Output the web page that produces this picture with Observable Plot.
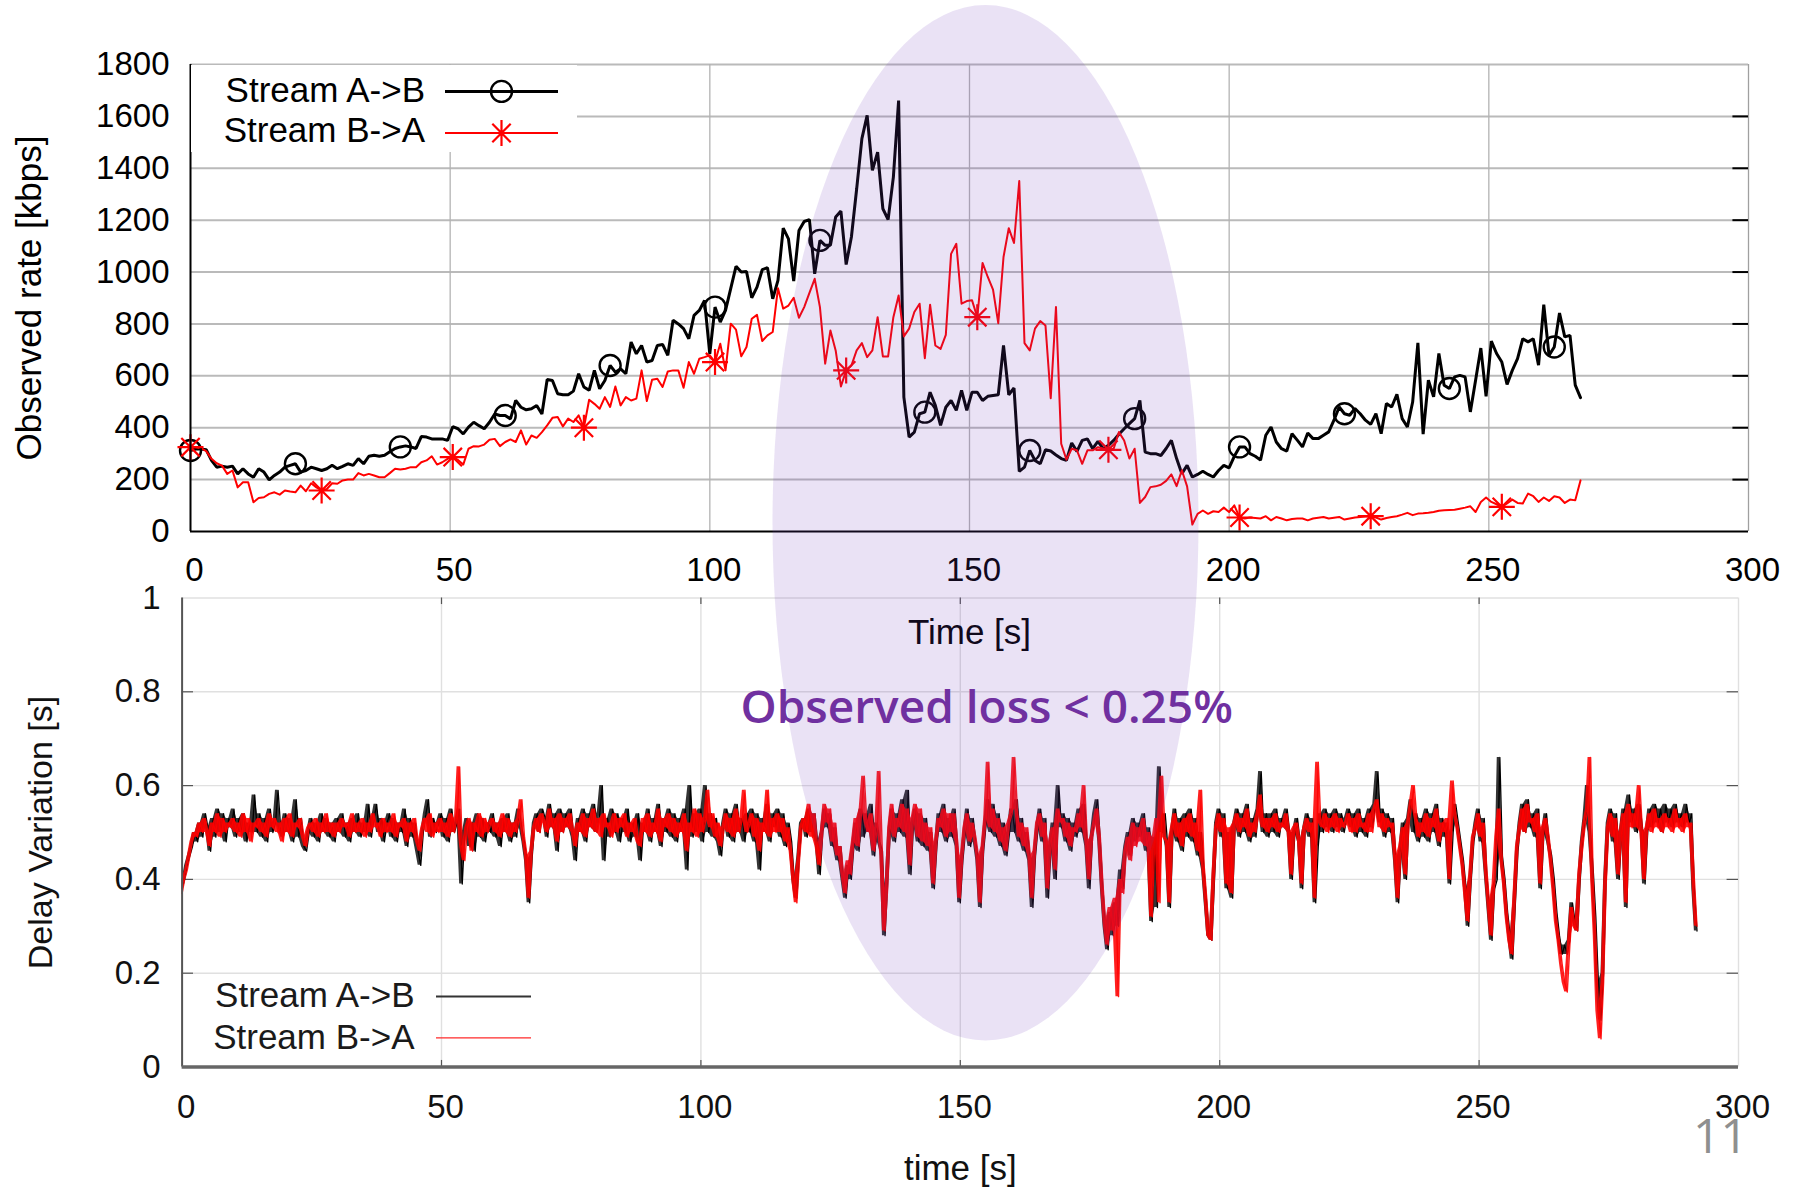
<!DOCTYPE html>
<html>
<head>
<meta charset="utf-8">
<script src="https://cdn.jsdelivr.net/npm/d3@7"></script>
<script src="https://cdn.jsdelivr.net/npm/@observablehq/plot@0.6"></script>
<style>
html, body { margin: 0; padding: 0; background: #fff; }
#page { position: relative; width: 1801px; height: 1188px; overflow: hidden; background: #fff; }
</style>
</head>
<body>
<div id="page"></div>
<script>
// ---------- DATA ----------
// Observed rate (kbps), one sample about every 1.01 s
const rateStep = 1.01;
const rateA = [
312,318,318,315,274,248,252,248,252,222,
242,222,209,242,229,199,216,229,248,255,
261,229,235,248,242,235,242,255,242,251,
261,255,281,261,290,294,290,294,307,320,
326,330,326,320,366,364,357,357,357,351,
404,396,376,402,421,408,396,421,453,447,
447,434,505,479,469,473,486,453,586,582,
531,527,527,541,608,557,544,621,550,582,
640,614,627,608,730,685,717,653,659,717,
721,679,814,800,782,743,833,852,891,685,
865,807,852,937,1022,1000,1002,901,942,1009,
1017,897,968,1169,1128,965,1160,1195,1202,993,
1122,1103,1103,1212,1235,1029,1135,1320,1514,1604,
1392,1462,1244,1202,1366,1661,518,364,383,454,
460,537,486,409,479,505,467,544,467,537,
537,505,521,524,527,717,527,553,232,248,
312,274,261,315,310,295,281,274,341,309,
351,357,319,347,319,332,351,375,396,416,
435,505,306,300,300,293,320,351,281,223,
255,210,220,232,220,210,235,255,245,290,
326,326,300,290,275,371,403,345,319,310,
377,352,326,380,358,358,371,384,429,480,
454,448,474,454,429,413,454,377,493,480,
529,435,403,499,727,375,583,519,686,564,
551,596,602,596,461,583,707,521,734,686,
653,567,621,666,743,731,743,641,874,679,
711,842,750,756,564,516
];
const rateB = [
325,325,321,310,280,263,254,222,235,170,
190,190,113,129,132,145,151,142,158,154,
151,177,155,186,170,158,164,186,184,197,
200,200,225,216,222,216,209,209,225,242,
239,242,248,248,267,274,290,258,267,280,
287,276,258,319,329,328,335,354,357,329,
345,355,345,390,335,370,361,383,409,438,
441,405,435,422,448,400,508,492,473,518,
480,559,486,518,505,512,621,503,585,589,
557,617,621,621,554,653,608,666,672,679,
653,724,621,801,778,675,711,820,835,734,
756,769,938,859,871,901,824,865,920,974,
865,647,775,698,559,621,640,698,726,672,
698,826,675,675,826,910,752,782,846,878,
668,874,717,704,758,1070,1109,878,888,891,
826,1035,981,932,803,1058,1169,1112,1351,726,
698,782,811,794,514,865,338,277,319,313,
261,313,313,325,320,315,319,383,351,281,
319,110,133,171,174,180,195,220,175,236,
174,27,68,81,68,78,75,92,75,101,
54,50,54,52,50,59,43,56,50,43,
48,50,50,43,50,53,56,50,53,56,
46,50,54,56,58,59,54,46,52,56,
59,65,72,63,69,70,72,75,80,82,
83,84,88,92,97,75,114,131,114,105,
95,108,123,110,108,146,136,114,131,118,
136,131,110,123,120,197
];
const markEveryA = 20;
const markEveryB = 25;

// Delay variation, in centiseconds, one sample every 0.5 s
const delayStep = 0.5;
const delayA_cs = [
38,40,43,45,47,50,48,52,49,54, 51,46,53,49,55,50,54,48,53,51,
55,49,53,50,54,48,52,50,58,50, 54,49,53,48,55,50,52,59,51,49,
54,50,53,48,57,49,53,47,46,50, 53,49,52,48,54,50,53,49,52,48,
53,50,54,49,52,48,53,50,54,49, 52,50,56,49,53,56,50,53,48,52,
54,49,53,48,52,50,55,47,53,49, 52,46,43,50,54,57,49,53,50,52,
54,49,53,48,55,50,52,55,39,50, 53,47,52,46,54,49,53,48,52,50,
54,49,52,47,53,50,54,48,52,49, 55,51,48,44,35,45,52,54,50,55,
53,49,56,51,54,46,55,50,54,51, 55,49,44,53,50,55,48,54,51,56,
50,54,60,44,53,49,55,50,54,48, 53,50,55,48,52,49,54,44,52,50,
55,48,53,50,56,47,53,50,55,49, 54,48,53,50,55,42,60,49,54,50,
55,48,60,50,54,49,53,48,45,52, 55,49,54,48,56,50,53,48,54,50,
55,48,54,42,53,50,56,48,54,51, 55,49,54,47,52,48,40,36,45,52,
53,49,55,50,54,48,41,50,55,51, 54,47,51,44,47,40,36,43,40,47,
52,46,55,49,54,50,56,45,52,48, 46,28,39,50,55,48,54,50,57,49,
59,41,52,55,48,54,47,53,46,50, 38,47,54,50,56,48,53,49,55,47,
35,44,50,55,47,53,48,44,34,46, 52,57,50,56,49,54,47,52,45,50,
55,50,57,48,53,46,50,44,34,45, 51,55,48,53,36,47,52,40,60,51,
54,48,53,46,52,49,55,50,56,47, 38,49,54,57,48,38,30,25,33,28,
35,30,42,38,47,50,45,53,48,52, 49,54,46,51,31,49,34,64,50,54,
47,34,50,55,48,53,46,54,49,55, 48,53,45,50,42,35,28,27,40,52,
55,49,54,38,50,36,52,55,49,54, 50,56,48,53,49,55,63,50,54,49,
54,50,55,49,53,51,55,50,40,50, 53,48,38,51,54,49,53,35,47,54,
50,55,51,54,50,55,51,54,50,53, 55,51,54,49,55,50,53,49,55,51,
56,63,52,55,49,54,50,53,44,35, 46,52,40,53,57,50,54,48,53,49,
55,48,54,50,56,47,53,49,52,39, 50,56,52,48,44,38,30,40,48,52,
55,48,53,41,34,27,38,40,66,45, 40,33,28,23,35,46,52,56,50,57,
51,54,49,55,38,50,54,48,45,40, 33,28,24,26,24,27,35,31,29,40,
48,53,60,50,42,32,18,10,20,40, 52,55,48,54,40,50,55,34,58,52,
55,50,56,51,39,50,55,51,56,52, 55,50,56,52,55,51,56,52,54,51,
56,52,54,38,29
];
const delayB_cs = [
37,40,42,45,48,50,49,52,50,53, 50,47,52,50,54,49,53,50,52,51,
53,50,52,49,54,50,53,48,52,51, 53,50,52,49,54,51,53,50,52,48,
53,50,54,49,52,51,53,49,47,51, 52,50,53,49,52,50,54,50,52,49,
52,50,53,51,52,49,54,50,52,50, 53,49,52,50,54,51,52,49,53,50,
52,50,54,49,52,51,53,48,52,50, 53,48,46,51,53,50,54,49,52,50,
53,50,52,49,54,50,53,64,47,44, 51,53,46,52,50,54,49,53,50,52,
53,50,52,49,54,50,53,49,52,50, 53,57,49,45,36,46,51,53,50,54,
52,50,55,51,53,48,54,50,53,51, 54,50,47,52,50,54,49,53,51,55,
50,53,49,54,51,52,49,54,50,53, 51,54,49,52,50,53,48,47,53,50,
54,49,52,50,55,48,53,51,54,50, 53,49,52,50,54,46,52,50,55,49,
54,50,53,59,51,54,49,52,47,51, 54,50,53,49,55,50,53,59,50,52,
54,49,53,46,52,50,59,49,53,50, 54,50,53,48,51,46,40,35,44,51,
53,50,56,49,54,47,43,50,56,52, 55,48,52,45,47,41,37,44,41,48,
53,47,55,62,52,50,54,46,51,63, 45,29,38,51,56,49,53,51,56,50,
55,43,53,56,49,55,48,52,47,51, 39,48,53,51,55,49,54,50,54,48,
36,45,51,54,48,52,49,45,35,47, 53,65,51,55,50,53,48,51,46,52,
54,66,55,49,52,47,51,45,36,46, 52,54,49,52,38,48,51,42,55,52,
53,49,52,47,51,50,54,51,60,48, 40,49,52,55,49,39,31,26,34,29,
36,15,40,37,46,49,44,52,47,51, 48,53,47,50,32,49,53,35,62,49,
48,35,51,54,49,52,47,53,50,54, 49,52,46,59,43,36,28,27,41,51,
54,50,53,39,51,37,52,54,50,53, 51,55,49,52,50,54,58,51,53,50,
53,51,54,50,52,51,54,50,41,51, 52,48,39,51,53,50,52,36,65,52,
51,54,50,53,51,54,50,53,51,52, 54,50,53,50,54,51,52,50,54,50,
55,57,51,54,50,53,51,52,45,36, 47,51,41,52,56,60,53,49,52,50,
54,49,53,51,55,48,52,50,53,40, 61,54,51,47,43,37,31,41,49,51,
54,49,52,42,35,28,39,49,55,44, 39,32,27,24,36,47,51,55,50,56,
52,53,50,54,39,51,53,49,44,38, 31,27,22,18,16,26,34,30,29,41,
47,52,55,66,40,28,12,6,18,39, 51,54,49,53,41,50,54,35,56,51,
54,51,60,50,40,51,54,50,55,51, 53,50,54,51,53,50,55,51,53,50,
54,51,52,40,30
];

// Ticks and texts
const rateXTicks = [0, 50, 100, 150, 200, 250, 300];
const rateYTicks = [0, 200, 400, 600, 800, 1000, 1200, 1400, 1600, 1800];
const delayXTicks = [0, 50, 100, 150, 200, 250, 300];
const delayYTicks = [0, 0.2, 0.4, 0.6, 0.8, 1];
const seriesNames = ["Stream A->B", "Stream B->A"];
const rateXLabel = "Time [s]";
const rateYLabel = "Observed rate [kbps]";
const delayXLabel = "time [s]";
const delayYLabel = "Delay Variation [s]";
const annotation = "Observed loss < 0.25%";
const pageNumber = "11";

// ---------- TABLES ----------
const rateTableA = rateA.map((v, i) => ({t: i * rateStep, v, i}));
const rateTableB = rateB.map((v, i) => ({t: i * rateStep, v, i}));
const delayTableA = delayA_cs.map((v, i) => ({t: i * delayStep, v: v / 100}));
const delayTableB = delayB_cs.map((v, i) => ({t: i * delayStep, v: v / 100}));
// min/max envelope of consecutive samples, so the dense noisy trace reads as a filled band
const envelope = tbl => tbl.map((d, i) => {
  const n = tbl[Math.min(i + 1, tbl.length - 1)];
  return {t: d.t, lo: Math.min(d.v, n.v), hi: Math.max(d.v, n.v)};
});
const envA = envelope(delayTableA);
const envB = envelope(delayTableB);

const RED = "#ff0000";
const FONT = "'Liberation Sans', Arial, Helvetica, sans-serif";
const plain = d => String(d);

// 8-spoke asterisk like gnuplot's point type 3
const asterisk8 = {
  draw(ctx, size) {
    const r = Math.sqrt(size / Math.PI);
    const d = r * Math.SQRT1_2;
    ctx.moveTo(-r, 0); ctx.lineTo(r, 0);
    ctx.moveTo(0, -r); ctx.lineTo(0, r);
    ctx.moveTo(-d, -d); ctx.lineTo(d, d);
    ctx.moveTo(-d, d); ctx.lineTo(d, -d);
  }
};

const page = document.getElementById("page");

// ---------- TOP CHART ----------
const topChart = Plot.plot({
  width: 1801, height: 660,
  marginTop: 64, marginBottom: 129, marginLeft: 190, marginRight: 53,
  x: {domain: [0, 300]},
  y: {domain: [0, 1800]},
  style: {background: "none", fontFamily: FONT, color: "#000", overflow: "visible"},
  marks: [
    Plot.ruleY(rateYTicks.slice(1), {stroke: "#bababa", strokeWidth: 2}),
    Plot.ruleX(rateXTicks.slice(1, -1), {stroke: "#b3b3b3", strokeWidth: 1.3}),
    Plot.ruleX([300], {stroke: "#a0a0a0", strokeWidth: 1.3}),
    Plot.ruleY(rateYTicks.slice(1, -1), {x1: 300, x2: 297, stroke: "#000", strokeWidth: 2}),
    Plot.line(rateTableA, {x: "t", y: "v", stroke: "#000", strokeWidth: 3, strokeLinejoin: "miter"}),
    Plot.line(rateTableB, {x: "t", y: "v", stroke: RED, strokeWidth: 2}),
    Plot.dot(rateTableA.filter(d => d.i % markEveryA === 0), {x: "t", y: "v", r: 10.5, stroke: "#000", strokeWidth: 2.4, fill: "none"}),
    Plot.dot(rateTableB.filter(d => d.i % markEveryB === 0), {x: "t", y: "v", r: 13, symbol: asterisk8, stroke: RED, strokeWidth: 2.2, fill: "none"}),
    Plot.ruleX([0], {stroke: "#000", strokeWidth: 2}),
    Plot.ruleY([0], {stroke: "#000", strokeWidth: 2}),
    Plot.axisX({ticks: rateXTicks, tickSize: 0, tickPadding: 26, fontSize: 33, dx: 4, tickFormat: plain, label: null}),
    Plot.axisY({ticks: rateYTicks, tickSize: 0, tickPadding: 21, fontSize: 33, tickFormat: plain, label: null}),
    Plot.text([rateXLabel], {frameAnchor: "bottom", dy: 101, lineAnchor: "middle", textAnchor: "middle", fontSize: 35}),
    Plot.text([rateYLabel], {frameAnchor: "left", dx: -161, rotate: -90, textAnchor: "middle", lineAnchor: "middle", fontSize: 35})
  ]
});
topChart.style.position = "absolute";
topChart.style.left = "0px";
topChart.style.top = "0px";

// ---------- BOTTOM CHART ----------
const botChart = Plot.plot({
  width: 1801, height: 608,
  marginTop: 17.5, marginBottom: 121.5, marginLeft: 181.6, marginRight: 63,
  x: {domain: [0, 300]},
  y: {domain: [0, 1]},
  style: {background: "none", fontFamily: FONT, color: "#111", overflow: "visible"},
  marks: [
    Plot.ruleY(delayYTicks.slice(1), {stroke: "#e0e0e0", strokeWidth: 1.4}),
    Plot.ruleX(delayXTicks.slice(1), {stroke: "#e0e0e0", strokeWidth: 1.4}),
    Plot.ruleX(delayXTicks.slice(1, -1), {y1: 1, y2: 0.986, stroke: "#555", strokeWidth: 1.2}),
    Plot.ruleX(delayXTicks.slice(1, -1), {y1: 0, y2: 0.014, stroke: "#555", strokeWidth: 1.2}),
    Plot.ruleY(delayYTicks.slice(1, -1), {x1: 300, x2: 297.8, stroke: "#555", strokeWidth: 1.2}),
    Plot.ruleY(delayYTicks.slice(1, -1), {x1: 0, x2: 2.2, stroke: "#555", strokeWidth: 1.2}),
    Plot.areaY(envA, {x: "t", y1: "lo", y2: "hi", fill: "#111", fillOpacity: 0.85}),
    Plot.line(delayTableA, {x: "t", y: "v", stroke: "#000", strokeWidth: 1.3}),
    Plot.areaY(envB, {x: "t", y1: "lo", y2: "hi", fill: RED, fillOpacity: 0.88}),
    Plot.line(delayTableB, {x: "t", y: "v", stroke: RED, strokeWidth: 1.4, strokeOpacity: 0.9}),
    Plot.ruleX([0], {stroke: "#555", strokeWidth: 2}),
    Plot.ruleY([0], {stroke: "#666", strokeWidth: 3.5}),
    Plot.axisX({ticks: delayXTicks, tickSize: 0, tickPadding: 28, fontSize: 33, dx: 4, tickFormat: plain, label: null}),
    Plot.axisY({ticks: delayYTicks, tickSize: 0, tickPadding: 21.5, fontSize: 33, tickFormat: plain, label: null}),
    Plot.text([delayXLabel], {frameAnchor: "bottom", dy: 102, lineAnchor: "middle", textAnchor: "middle", fontSize: 35}),
    Plot.text([delayYLabel], {frameAnchor: "left", dx: -140.6, rotate: -90, textAnchor: "middle", lineAnchor: "middle", fontSize: 34})
  ]
});
botChart.style.position = "absolute";
botChart.style.left = "0px";
botChart.style.top = "580px";

page.appendChild(botChart);
page.appendChild(topChart);

// ---------- LEGENDS & ANNOTATIONS (overlay) ----------
const ov = d3.select(page).append("svg")
  .attr("width", 1801).attr("height", 1188)
  .style("position", "absolute").style("left", "0px").style("top", "0px")
  .style("pointer-events", "none")
  .style("font-family", FONT);

// top legend
ov.append("rect").attr("x", 191).attr("y", 65).attr("width", 386).attr("height", 87).attr("fill", "#fff");
ov.append("text").attr("x", 425).attr("y", 102).attr("text-anchor", "end").attr("font-size", 35).attr("fill", "#000").text(seriesNames[0]);
ov.append("text").attr("x", 425).attr("y", 142).attr("text-anchor", "end").attr("font-size", 35).attr("fill", "#000").text(seriesNames[1]);
ov.append("line").attr("x1", 445).attr("x2", 558).attr("y1", 91.4).attr("y2", 91.4).attr("stroke", "#000").attr("stroke-width", 3);
ov.append("circle").attr("cx", 501.5).attr("cy", 91.4).attr("r", 10.5).attr("fill", "none").attr("stroke", "#000").attr("stroke-width", 2.4);
ov.append("line").attr("x1", 445).attr("x2", 558).attr("y1", 133).attr("y2", 133).attr("stroke", RED).attr("stroke-width", 2);
ov.append("path").attr("transform", "translate(501.5,133)")
  .attr("d", d3.symbol(asterisk8, Math.PI * 13 * 13)())
  .attr("fill", "none").attr("stroke", RED).attr("stroke-width", 2.2);

// bottom legend
ov.append("text").attr("x", 414.5).attr("y", 1006.5).attr("text-anchor", "end").attr("font-size", 35).attr("fill", "#1a1a1a").text(seriesNames[0]);
ov.append("text").attr("x", 414.5).attr("y", 1048.6).attr("text-anchor", "end").attr("font-size", 35).attr("fill", "#1a1a1a").text(seriesNames[1]);
ov.append("line").attr("x1", 436).attr("x2", 531).attr("y1", 996.5).attr("y2", 996.5).attr("stroke", "#333").attr("stroke-width", 2);
ov.append("line").attr("x1", 436).attr("x2", 531).attr("y1", 1037.8).attr("y2", 1037.8).attr("stroke", "#ff2a2a").attr("stroke-width", 1.2);

// highlight ellipse
ov.append("ellipse").attr("cx", 985.5).attr("cy", 522.8).attr("rx", 213).attr("ry", 517.8)
  .attr("fill", "rgb(112,60,190)").attr("fill-opacity", 0.15);

// annotation text
ov.append("text").attr("x", 740.5).attr("y", 723).attr("font-family", "'Open Sans', 'Noto Sans', sans-serif")
  .attr("font-weight", 600).attr("font-size", 46).attr("fill", "#7030a0").text(annotation);

// page number
ov.append("text").attr("x", 1693).attr("y", 1153).attr("font-family", "'Open Sans', 'Noto Sans', sans-serif")
  .attr("font-size", 48).attr("fill", "#8f8f8f").text(pageNumber);
</script>
</body>
</html>
